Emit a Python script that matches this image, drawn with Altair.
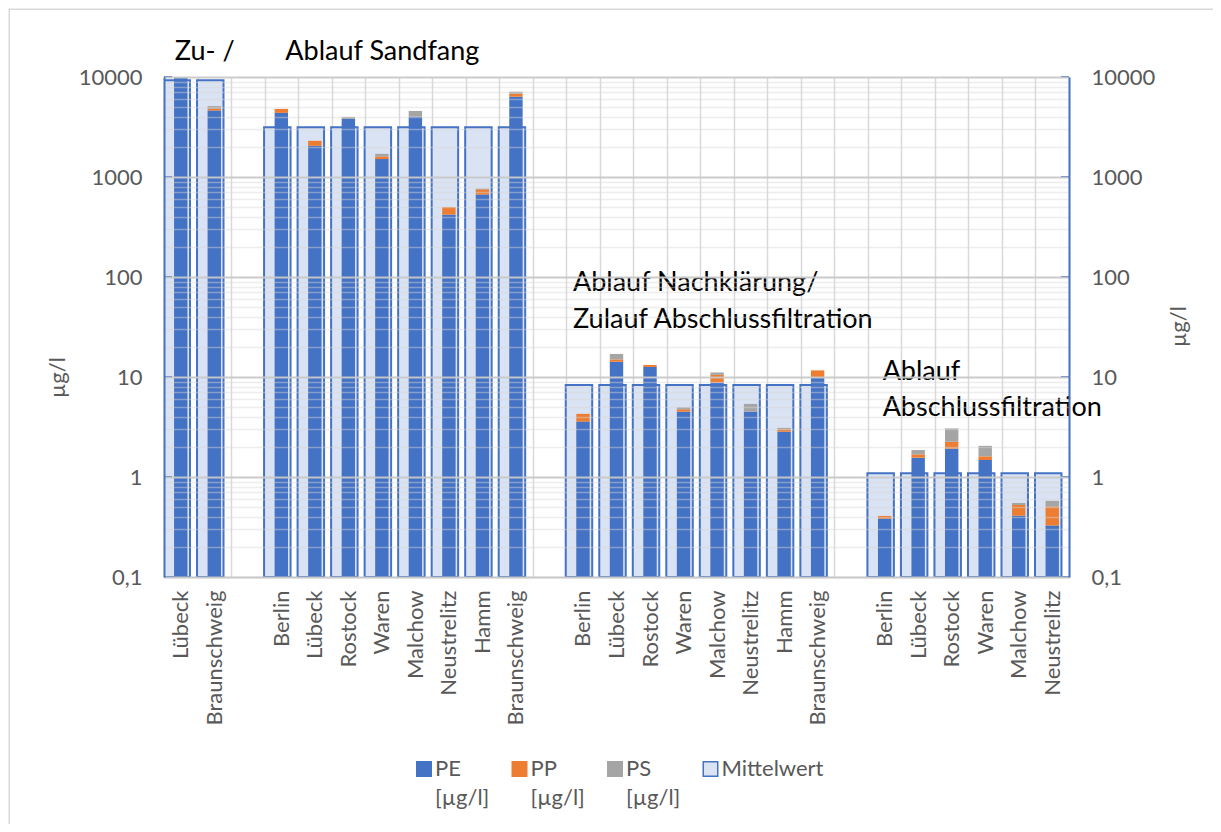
import altair as alt
import pandas as pd

# ---------------- data ----------------
names = ["Lübeck", "Braunschweig", "",
         "Berlin", "Lübeck", "Rostock", "Waren", "Malchow", "Neustrelitz", "Hamm", "Braunschweig", "",
         "Berlin", "Lübeck", "Rostock", "Waren", "Malchow", "Neustrelitz", "Hamm", "Braunschweig", "",
         "Berlin", "Lübeck", "Rostock", "Waren", "Malchow", "Neustrelitz"]
pe = [13500, 4620, None,
      4380, 2050, 3810, 1510, 4000, 420, 668, 6350, None,
      3.58, 14.2, 12.6, 4.5, 8.8, 4.5, 2.84, 9.85, None,
      0.384, 1.56, 1.92, 1.48, 0.41, 0.327]
pp = [0, 210, None,
      420, 250, 0, 95, 25, 80, 85, 460, None,
      0.7, 0.8, 0.6, 0.25, 1.7, 0, 0.16, 1.8, None,
      0.024, 0.125, 0.33, 0.13, 0.115, 0.18]
ps = [0, 300, None,
      0, 0, 180, 100, 550, 0, 10, 320, None,
      0, 2.0, 0, 0.23, 0.6, 0.88, 0.1, 0, None,
      0, 0.175, 0.81, 0.44, 0.025, 0.07]
mittelwert = [9300, 9300, None,
              3150, 3150, 3150, 3150, 3150, 3150, 3150, 3150, None,
              8.3, 8.3, 8.3, 8.3, 8.3, 8.3, 8.3, 8.3, None,
              1.09, 1.09, 1.09, 1.09, 1.09, 1.09]
series = ["PE", "PP", "PS", "Mittelwert"]
colors = ["#4472C4", "#ED7D31", "#A5A5A5", "#DAE3F3"]
strokes = ["#4472C4", "#ED7D31", "#A5A5A5", "#4472C4"]
unit = "[µg/l]"
axis_base = 0.1
major_ticks = [0.1, 1, 10, 100, 1000, 10000]
all_ticks = [round(m * 10.0 ** e, 6) for e in range(-1, 4) for m in range(1, 10)] + [10000]

annotations = [("Zu- /", 0), ("Ablauf Sandfang", 3),
               ("Ablauf Nachklärung/\nZulauf Abschlussfiltration", 12),
               ("Ablauf\nAbschlussfiltration", 21)]

# ---------------- tables ----------------
keys = [f"{i:02d}|{n}" for i, n in enumerate(names)]
stack_rows = []
for k, a, b, c in zip(keys, pe, pp, ps):
    if a is None:
        continue
    cum = 0.0
    for s, v in (("PE", a), ("PP", b), ("PS", c)):
        if v and v > 0:
            start = axis_base if s == "PE" else cum
            cum += v
            stack_rows.append({"key": k, "series": s, "y0": start, "y1": cum})
stack_df = pd.DataFrame(stack_rows)
mean_df = pd.DataFrame([{"key": k, "series": "Mittelwert", "mean": m, "base": axis_base}
                        for k, m in zip(keys, mittelwert) if m is not None])

# ---------------- style ----------------
F = "Lato"
TXT = "#595959"
BLUE = "#4472C4"
W, H = 905, 500
LBL = 22

yscale = alt.Scale(type="log", domain=[0.1, 10000], nice=False)
is_major = "indexof([0.1,1,10,100,1000,10000], datum.value) >= 0"

xaxis = alt.Axis(title=None, labelExpr="split(datum.label, '|')[1]", labelAngle=-90,
                 labelFont=F, labelFontSize=LBL, labelColor=TXT, labelPadding=13,
                 ticks=False, domainColor="#D9D9D9", domainWidth=1.5,
                 grid=True, gridColor="#D9D9D9", gridWidth=1.5, tickBand="extent",
                 labelOverlap=False)
xenc = alt.X("key:N", scale=alt.Scale(domain=keys, paddingInner=0, paddingOuter=0), axis=xaxis)

legend = alt.Legend(title=None, orient="none", legendX=249, legendY=681, direction="horizontal",
                    symbolType="square", symbolSize=210, symbolStrokeWidth=1.5,
                    labelFont=F, labelFontSize=LBL, labelColor=TXT, labelBaseline="middle",
                    labelOffset=0, columnPadding=18.5, padding=0,
                    labelExpr="datum.label == 'Mittelwert' ? ['Mittelwert', ''] : [datum.label, '" + unit + "']")
fill = alt.Fill("series:N", scale=alt.Scale(domain=series, range=colors), legend=legend)
stroke = alt.Stroke("series:N", scale=alt.Scale(domain=series, range=strokes), legend=legend)

left_axis = alt.Axis(orient="left", values=all_ticks, format="~g",
                     labelExpr=is_major + " ? replace(datum.label, '.', ',') : ''",
                     labelFont=F, labelFontSize=LBL, labelColor=TXT, labelPadding=22, labelOverlap=False,
                     ticks=False, domainColor=BLUE, domainWidth=2,
                     grid=True,
                     gridColor={"condition": {"test": is_major, "value": "rgba(200,200,200,0.95)"},
                                "value": "rgba(215,215,215,0.45)"},
                     gridWidth={"condition": {"test": is_major, "value": 2}, "value": 1.5},
                     zindex=1,
                     title="µg/l", titleFont=F, titleFontSize=LBL, titleColor=TXT,
                     titleFontWeight="normal", titleAngle=270, titleX=-107, titleY=300,
                     titleAlign="center", titleBaseline="middle")
right_axis = alt.Axis(orient="right", values=major_ticks, format="~g",
                      labelExpr="replace(datum.label, '.', ',')",
                      labelFont=F, labelFontSize=LBL, labelColor=TXT, labelPadding=22,
                      ticks=False, domainColor=BLUE, domainWidth=2, grid=False, zindex=1,
                      title="µg/l", titleFont=F, titleFontSize=LBL, titleColor=TXT,
                      titleFontWeight="normal", titleAngle=270, titleX=109, titleY=249,
                      titleAlign="center", titleBaseline="middle")

mean_layer = alt.Chart(mean_df).mark_bar(
    width=alt.RelativeBandSize(0.79), xOffset=-4, strokeWidth=2, clip=True
).encode(x=xenc, y=alt.Y("mean:Q", scale=yscale, axis=right_axis), y2="base:Q",
         fill=fill, stroke=stroke)

stack_layer = alt.Chart(stack_df).mark_bar(
    width=alt.RelativeBandSize(0.4), strokeWidth=0, clip=True
).encode(x=xenc, y=alt.Y("y1:Q", scale=yscale, axis=left_axis), y2="y0:Q",
         fill=fill, stroke=stroke)

tick_df = pd.DataFrame({"v": major_ticks})
ticks_left = alt.Chart(tick_df).mark_rule(color=BLUE, strokeWidth=2).encode(
    y=alt.Y("v:Q", scale=yscale, axis=None), x=alt.value(0), x2=alt.value(8))
ticks_right = alt.Chart(tick_df).mark_rule(color=BLUE, strokeWidth=2).encode(
    y=alt.Y("v:Q", scale=yscale, axis=None), x=alt.value(W - 8), x2=alt.value(W))

ann_y = [17800, 17800, 86.7, 11.2]
ann_dx = [-6, 4, -10, -2]
ann_lh = [0, 0, 37, 36]
ann_layers = []
for (txt, slot), yv, dx, lh in zip(annotations, ann_y, ann_dx, ann_lh):
    d = pd.DataFrame({"key": [keys[slot]], "text": [txt]})
    props = dict(align="left", baseline="middle", dx=dx, font=F, fontSize=27, color="#000000",
                 lineBreak="\n")
    if lh:
        props["lineHeight"] = lh
    ann_layers.append(alt.Chart(d).mark_text(**props).encode(
        x=xenc, y=alt.YDatum(yv, scale=yscale, axis=None), text="text:N"))

# chart-area border: thin filled strips along the top and left edges
frame_df = pd.DataFrame({"a": [0]})
frame_top = alt.Chart(frame_df).mark_rect(fill="#D9D9D9", strokeWidth=0).encode(
    x=alt.value(-155.5), x2=alt.value(W + 144), y=alt.value(-68.5), y2=alt.value(-67))
frame_left = alt.Chart(frame_df).mark_rect(fill="#D9D9D9", strokeWidth=0).encode(
    x=alt.value(-155.5), x2=alt.value(-154), y=alt.value(-68.5), y2=alt.value(H + 247))

chart = alt.layer(
    frame_top, frame_left, mean_layer, stack_layer, ticks_left, ticks_right, *ann_layers
).resolve_axis(y="independent").properties(
    width=W, height=H, autosize="none",
    padding={"left": 156, "top": 69, "right": 144, "bottom": 247},
    background="white"
).configure(
    style={"guide-label": {"lineHeight": 29}},
    view=alt.ViewConfig(stroke=None)
)

chart.save("out.html", embed_options={"renderer": "svg", "actions": False})
